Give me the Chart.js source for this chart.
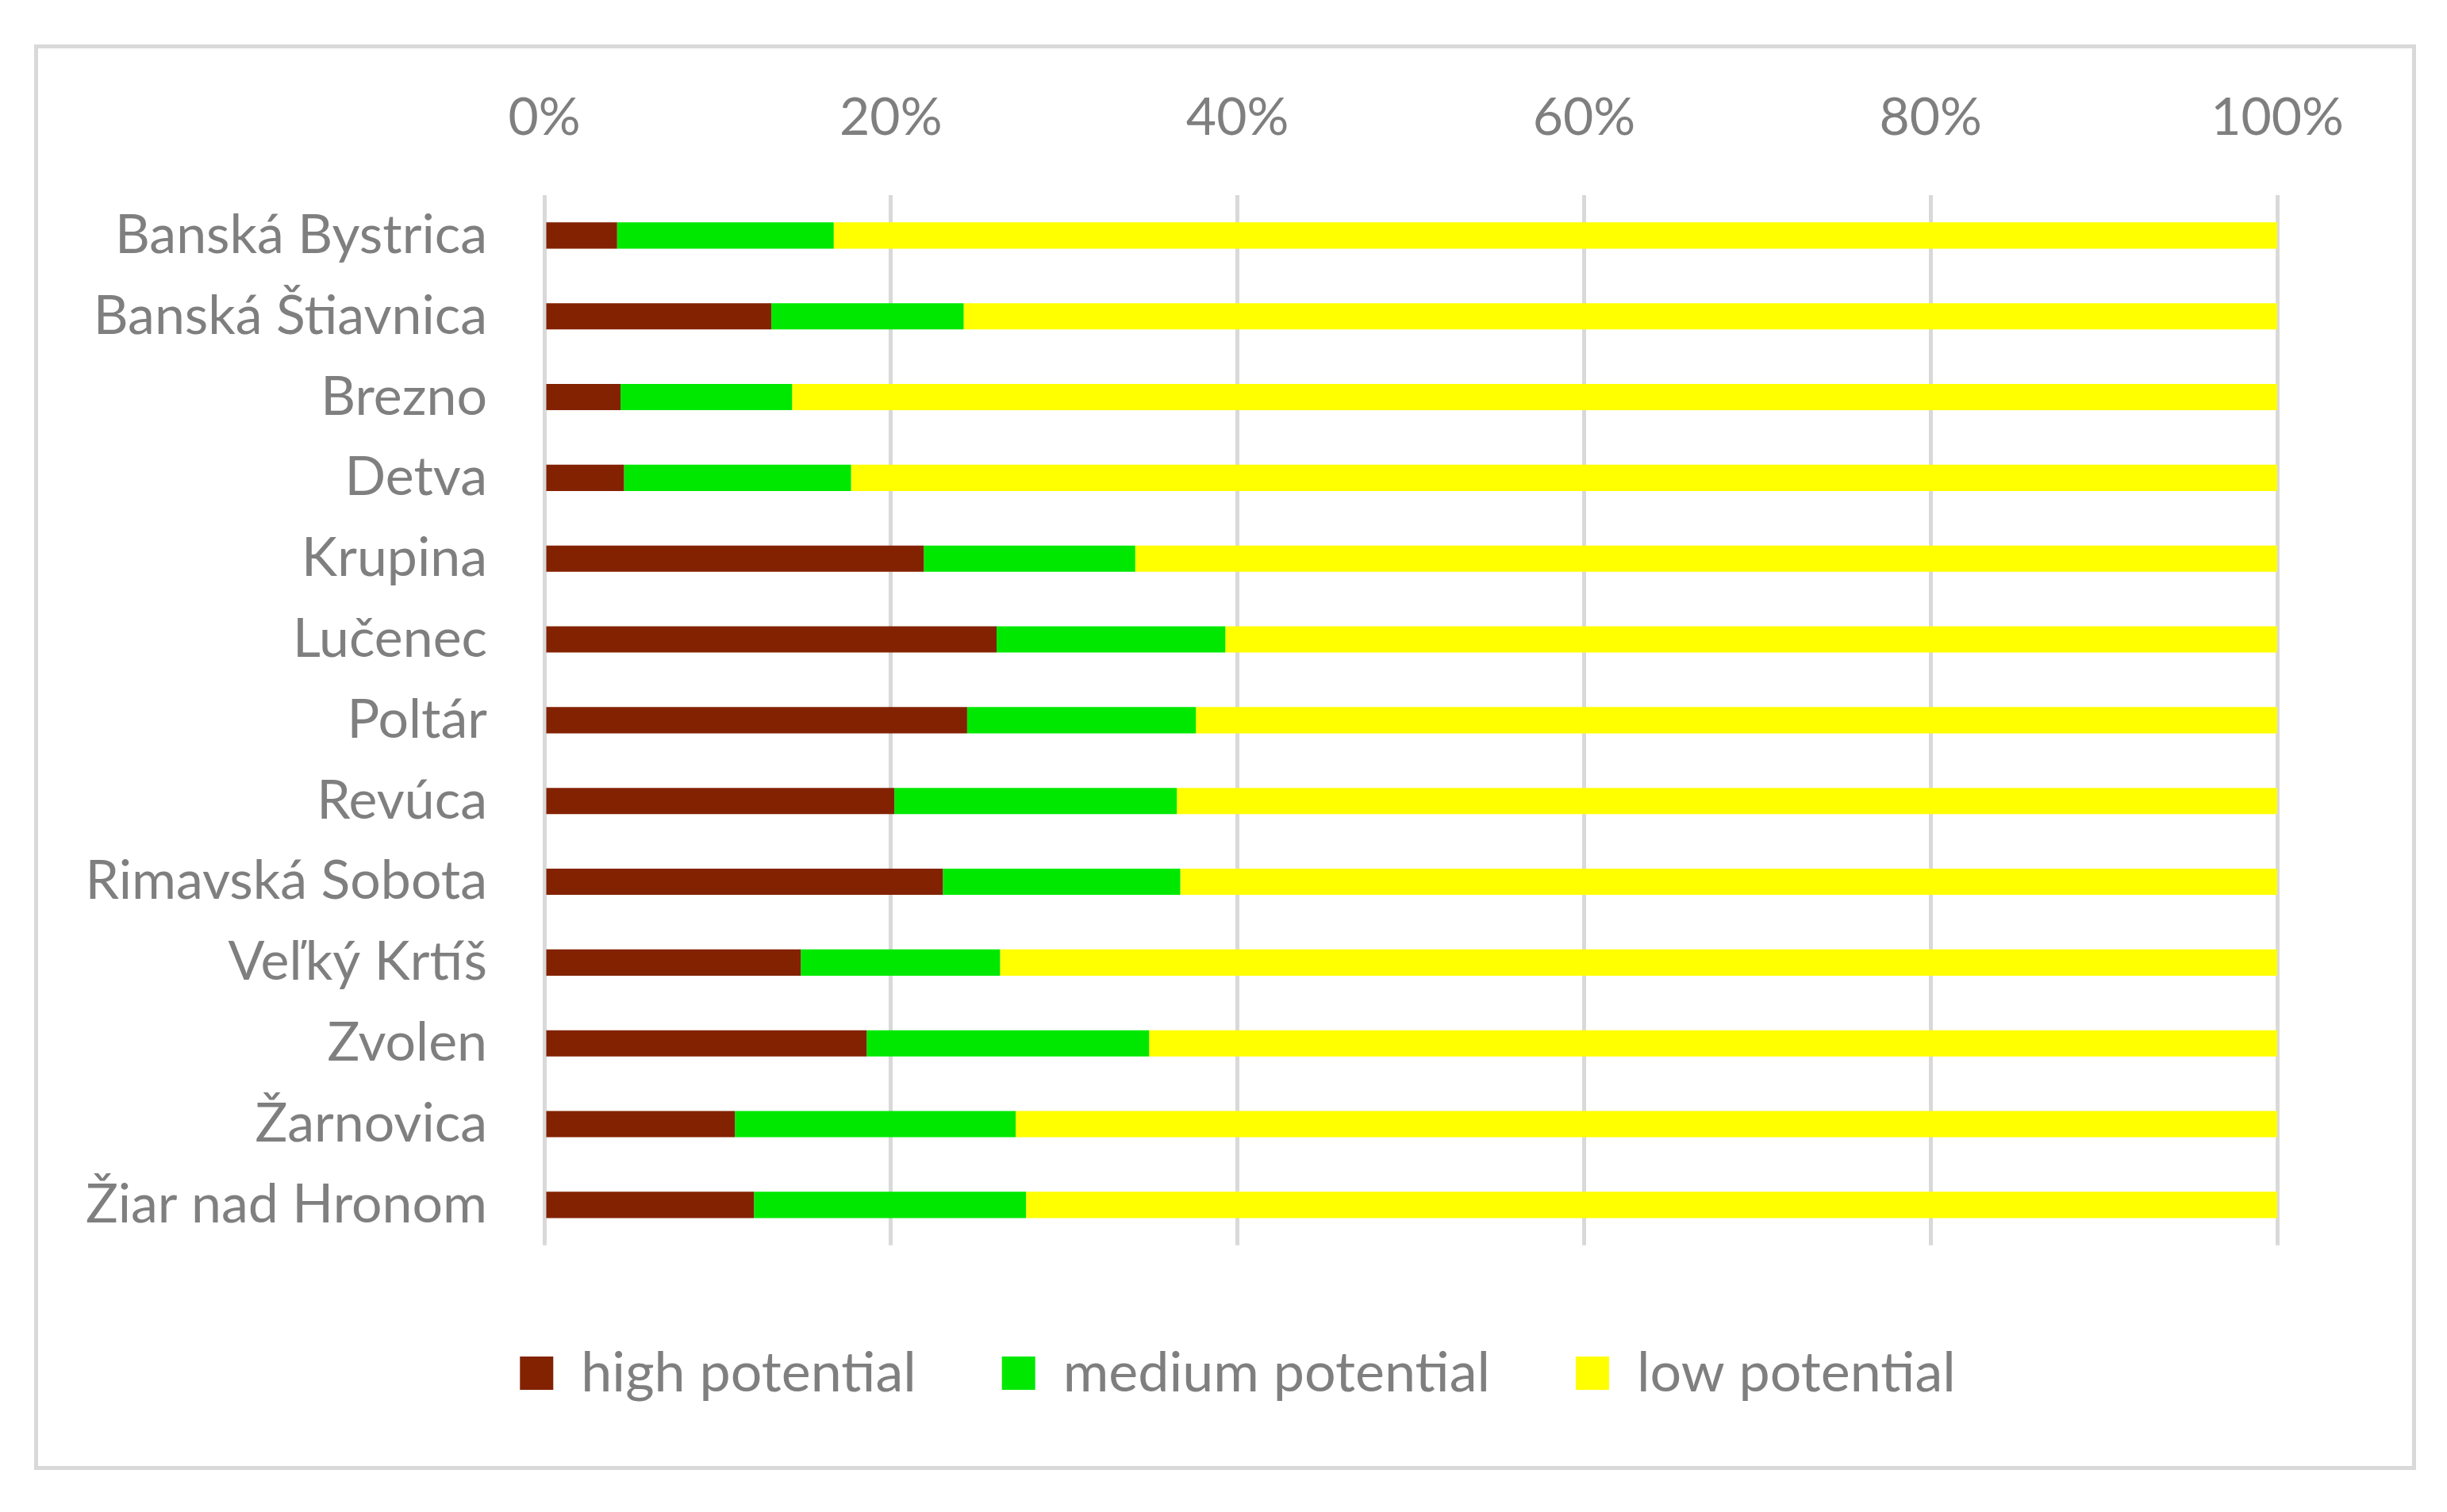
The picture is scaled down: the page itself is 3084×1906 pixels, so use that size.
<!DOCTYPE html>
<html>
<head>
<meta charset="utf-8">
<script src="https://cdn.jsdelivr.net/npm/chart.js@4.4.1/dist/chart.umd.min.js"></script>
<style>
  html, body { margin: 0; padding: 0; background: #ffffff; }
  body { width: 3084px; height: 1906px; position: relative; overflow: hidden; }
  #frame {
    position: absolute; left: 43px; top: 56px; width: 3002px; height: 1797px;
    border: 5px solid #d9d9d9; box-sizing: border-box; background: #ffffff;
  }
  #chart { position: absolute; left: 0; top: 0; width: 2992px; height: 1787px; }
</style>
</head>
<body>
<div id="frame"><canvas id="chart" width="2992" height="1787"></canvas></div>
<script>
let districts = ["Banská Bystrica", "Banská Štiavnica", "Brezno", "Detva", "Krupina", "Lučenec",
                 "Poltár", "Revúca", "Rimavská Sobota", "Veľký Krtíš", "Zvolen", "Žarnovica", "Žiar nad Hronom"];

// shares in %
let highPotential   = [4.2, 13.1, 4.4, 4.6, 21.9, 26.1, 24.4, 20.2, 23.0, 14.8, 18.6, 11.0, 12.1];
let mediumPotential = [12.5, 11.1, 9.9, 13.1, 12.2, 13.2, 13.2, 16.3, 13.7, 11.5, 16.3, 16.2, 15.7];
let lowPotential    = [83.3, 75.8, 85.7, 82.3, 65.9, 60.7, 62.4, 63.5, 63.3, 73.7, 65.1, 72.8, 72.2];

let seriesNames = ["high potential", "medium potential", "low potential"];
let seriesColors = ["#832200", "#00e800", "#ffff00"];
let xTicks = [0, 20, 40, 60, 80, 100];

const textGray = "#7f7f7f";
const fontFamily = "Lato, 'Open Sans', sans-serif";

new Chart(document.getElementById("chart"), {
    type: "bar",
    data: {
        labels: districts,
        datasets: [
            {label: seriesNames[0], data: highPotential, backgroundColor: seriesColors[0]},
            {label: seriesNames[1], data: mediumPotential, backgroundColor: seriesColors[1]},
            {label: seriesNames[2], data: lowPotential, backgroundColor: seriesColors[2]}
        ]
    },
    options: {
        indexAxis: "y",
        responsive: false,
        animation: false,
        datasets: {
            bar: {categoryPercentage: 1, barPercentage: 0.325, borderWidth: 0}
        },
        layout: {padding: {left: 32, right: 0, top: 0, bottom: 72}},
        scales: {
            x: {
                position: "top",
                stacked: true,
                min: 0,
                max: 100,
                afterBuildTicks: (scale) => { scale.ticks = xTicks.map(v => ({value: v})); },
                afterFit: (scale) => { scale.height = 185; },
                ticks: {
                    color: textGray,
                    font: {family: fontFamily, size: 66},
                    padding: 58,
                    callback: (v) => v + "%"
                },
                grid: {color: "#d9d9d9", lineWidth: 5, drawTicks: false},
                border: {display: false}
            },
            y: {
                stacked: true,
                afterFit: (scale) => { scale.width = 606; },
                ticks: {
                    color: textGray,
                    font: {family: fontFamily, size: 68},
                    padding: 72
                },
                grid: {display: false, drawTicks: false},
                border: {display: false}
            },
            // empty right-hand strip so the plot stops short of the frame
            yRight: {
                type: "category",
                position: "right",
                afterFit: (scale) => { scale.width = 170; },
                ticks: {display: false},
                grid: {display: false, drawTicks: false},
                border: {display: false}
            }
        },
        plugins: {
            legend: {
                position: "bottom",
                title: {display: true, text: "", font: {size: 1}, padding: {top: 0, bottom: 17}},
                labels: {
                    color: textGray,
                    font: {family: fontFamily, size: 70},
                    boxWidth: 42,
                    boxHeight: 42,
                    padding: 108
                }
            },
            tooltip: {enabled: false}
        }
    }
});
</script>
</body>
</html>
